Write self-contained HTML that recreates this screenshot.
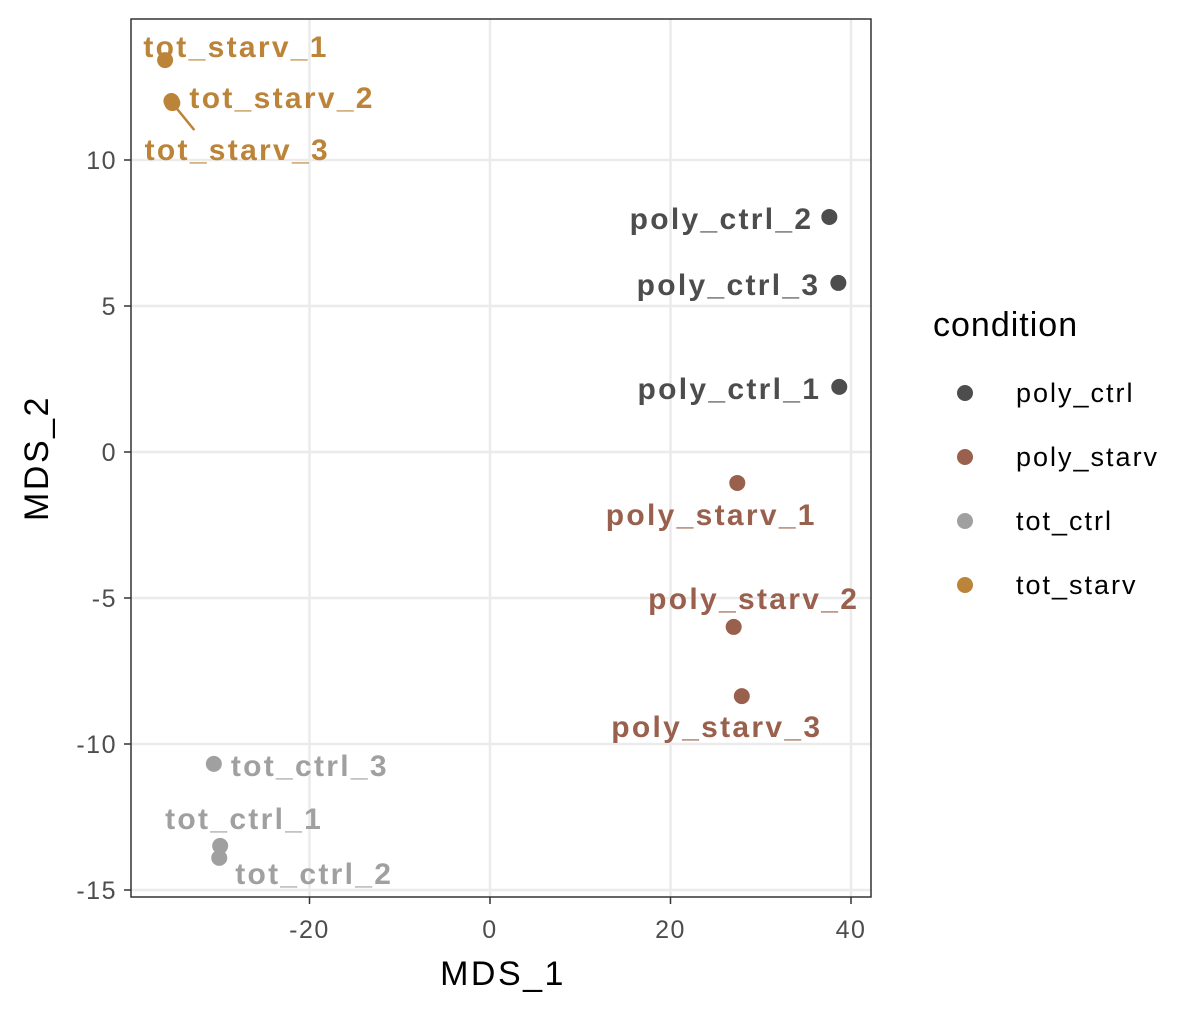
<!DOCTYPE html>
<html><head><meta charset="utf-8"><style>body{margin:0;background:#fff}svg{font-family:"Liberation Sans",Arial,sans-serif}</style></head>
<body>
<svg id="chart" width="1202" height="1012" xmlns="http://www.w3.org/2000/svg">
<rect x="131" y="19" width="740" height="878" fill="#fff"/>
<g id="grid"></g><g id="marks"></g>
<rect x="131" y="19" width="740" height="878" fill="none" stroke="#333" stroke-width="1.5"/>
<g id="axes"></g>
<text x="503" y="985" font-size="34" letter-spacing="2.5" text-anchor="middle">MDS_1</text>
<text transform="translate(48,458) rotate(-90)" font-size="34" letter-spacing="2.5" text-anchor="middle">MDS_2</text>
<g>
<text x="933" y="336" font-size="34" letter-spacing="1">condition</text>
<g id="legend"></g></g>
</svg>
<script>
const names=["tot_starv_1","tot_starv_2","tot_starv_3","poly_ctrl_2","poly_ctrl_3","poly_ctrl_1","poly_starv_1","poly_starv_2","poly_starv_3","tot_ctrl_3","tot_ctrl_1","tot_ctrl_2"];
const groups=["tot_starv","tot_starv","tot_starv","poly_ctrl","poly_ctrl","poly_ctrl","poly_starv","poly_starv","poly_starv","tot_ctrl","tot_ctrl","tot_ctrl"];
const mds1=[-36.0,-35.3,-35.2,37.6,38.6,38.7,27.4,27.0,27.9,-30.6,-29.9,-30.0];
const mds2=[13.42,12.02,11.95,8.05,5.79,2.23,-1.06,-5.99,-8.36,-10.68,-13.49,-13.9];
const xTicks=[-20,0,20,40];
const yTicks=[10,5,0,-5,-10,-15];
const conditions=["poly_ctrl","poly_starv","tot_ctrl","tot_starv"];
const colors={poly_ctrl:"#4d4d4d",poly_starv:"#99604e",tot_ctrl:"#a0a0a0",tot_starv:"#bb8438"};
const lab=[[71,-13,"middle"],[18,-3,"start"],[65,47,"middle"],[-16,2,"end"],[-18,2,"end"],[-18,2,"end"],[-26,32,"middle"],[20,-28,"middle"],[-25,31,"middle"],[17,2,"start"],[24,-27,"middle"],[95,16,"middle"]];
const X=v=>490+v*9.025, Y=v=>452-v*29.2;
const NS="http://www.w3.org/2000/svg";
function mk(t,a,p){const e=document.createElementNS(NS,t);for(const k in a)e.setAttribute(k,a[k]);p.appendChild(e);return e;}
const grid=document.getElementById('grid'),axes=document.getElementById('axes'),marks=document.getElementById('marks'),leg=document.getElementById('legend');
xTicks.forEach(v=>{const l=mk('line',{x1:X(v),x2:X(v),y1:19,y2:897,stroke:'#ebebeb','stroke-width':2.5},grid);


const tk=mk('line',{x1:X(v),x2:X(v),y1:897,y2:904,stroke:'#333','stroke-width':1.5},axes);


const t=mk('text',{x:X(v),y:938,'font-size':25,'letter-spacing':1.5,fill:'#4d4d4d','text-anchor':'middle'},axes);t.textContent=v;

});
yTicks.forEach(v=>{const l=mk('line',{x1:131,x2:871,y1:Y(v),y2:Y(v),stroke:'#ebebeb','stroke-width':2.5},grid);


const tk=mk('line',{x1:124,x2:131,y1:Y(v),y2:Y(v),stroke:'#333','stroke-width':1.5},axes);


const t=mk('text',{x:117,y:Y(v)+9,'font-size':25,'letter-spacing':1.5,fill:'#4d4d4d','text-anchor':'end'},axes);t.textContent=v;

});
names.forEach((n,i)=>{const px=X(mds1[i]),py=Y(mds2[i]),c=colors[groups[i]];
if(n==="tot_starv_3"){const s=mk('line',{x1:px,y1:py,x2:px+22,y2:py+27,stroke:c,'stroke-width':2.5},marks);

}
const p=mk('circle',{cx:px,cy:py,r:8,fill:c},marks);


const t=mk('text',{x:px+lab[i][0],y:py+lab[i][1]+10,'font-size':30,'letter-spacing':2.3,'font-weight':'bold',fill:c,'text-anchor':lab[i][2]},marks);t.textContent=n;

});
conditions.forEach((c,i)=>{const y=393+i*64;
const p=mk('circle',{cx:965,cy:y,r:8,fill:colors[c]},leg);


const t=mk('text',{x:1016,y:y+9,'font-size':27,'letter-spacing':2,fill:'#000'},leg);t.textContent=c;

});
</script>
</body></html>
